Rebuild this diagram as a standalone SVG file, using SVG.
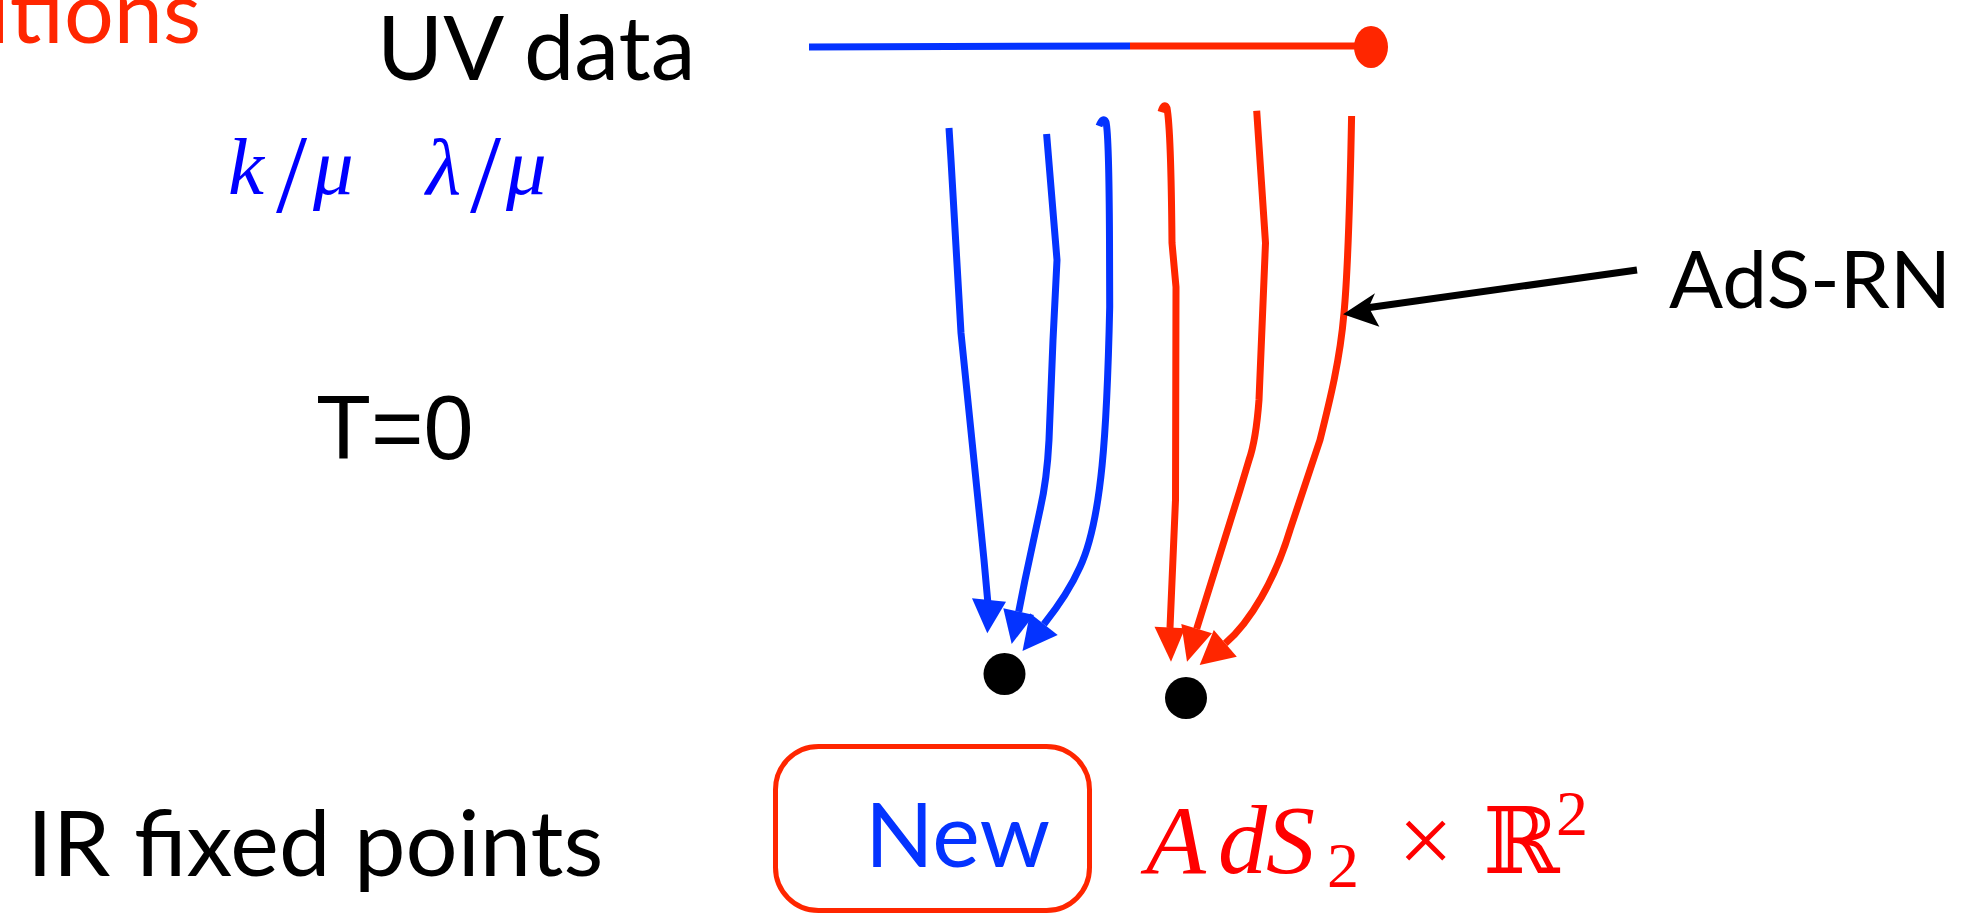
<svg xmlns="http://www.w3.org/2000/svg" width="1973" height="914" viewBox="0 0 1973 914">
<style>
.gill{font-family:Lato,"Open Sans","DejaVu Sans",sans-serif;}
.math{font-family:"Liberation Serif","DejaVu Serif",serif;font-style:italic;}
.up{font-family:"Liberation Serif","DejaVu Serif",serif;font-style:normal;}
.bl{stroke:#0433ff;stroke-width:7;fill:none;stroke-linejoin:round;}
.rd{stroke:#ff2600;stroke-width:7;fill:none;stroke-linejoin:round;}
.bh{fill:#0433ff;}
.rh{fill:#ff2600;}
.dot{fill:#000;}
</style>
<rect width="1973" height="914" fill="#fff"/>

<g id="title-fragment"><text class="gill" x="201" y="43" font-size="88" fill="#ff2600" text-anchor="end">itions</text></g>
<g id="uv-data"><text class="gill" x="377" y="80" font-size="90" fill="#000">UV data</text></g>
<g id="uv-params">
<text class="math" font-size="81" fill="#0000ff"><tspan x="228" y="194">k</tspan><tspan x="426" y="194">λ</tspan></text>
<text class="up" font-size="112" fill="#0000ff"><tspan x="276" y="212">/</tspan><tspan x="470" y="212">/</tspan></text>
<text class="math" font-size="81" fill="#0000ff"><tspan x="313" y="194">μ</tspan><tspan x="506" y="194">μ</tspan></text>
</g>
<g id="t-zero"><text x="316" y="459" font-family="'Liberation Sans',Arial,sans-serif" font-size="90" fill="#000">T=0</text></g>
<g id="ir-label"><text class="gill" x="27" y="876" font-size="92" fill="#000">IR fixed points</text></g>
<g id="ads-rn-label"><text class="gill" x="1669" y="308" font-size="80" fill="#000">AdS-RN</text></g>

<g id="uv-line">
<line x1="809" y1="47" x2="1130" y2="46" stroke="#0433ff" stroke-width="7"/>
<line x1="1130" y1="46" x2="1362" y2="46" stroke="#ff2600" stroke-width="7"/>
<ellipse cx="1371" cy="47" rx="17" ry="21" fill="#ff2600"/>
</g>

<g id="new-fixed-point">
<rect x="775.5" y="746.5" width="314" height="164" rx="43" ry="43" fill="none" stroke="#ff2600" stroke-width="5"/>
<text class="gill" x="865" y="867" font-size="90" fill="#0433ff">New</text>
<circle class="dot" cx="1004.5" cy="674" r="21"/>
</g>

<g id="ads2-fixed-point">
<text fill="#ff0000">
<tspan class="math" x="1146" y="873" font-size="98">A</tspan><tspan class="math" x="1218" y="873" font-size="98">d</tspan><tspan class="math" x="1266" y="873" font-size="98">S</tspan><tspan class="up" x="1327" y="887" font-size="64">2</tspan><tspan class="up" x="1398" y="873" font-size="98">×</tspan><tspan x="1483" y="873" font-size="92" font-family="'DejaVu Serif',serif">ℝ</tspan><tspan class="up" x="1556" y="835" font-size="64">2</tspan>
</text>
<circle class="dot" cx="1186" cy="698" r="21"/>
</g>

<g id="connectors">
<path class="bl" d="M949,128 L951,160 L961,333 L978,500 L984,560 L988,604"/>
<path class="bl" d="M1046.6,134 L1057,260 L1053,340 L1049,440 Q1047,480 1040,510 L1025,580 L1018.7,611.7"/>
<path class="bl" d="M1099,126 Q1103,116 1106,122 Q1109,135 1109.5,240 L1109.7,307 C1107,430 1102,520 1080,567 Q1068,594 1043.9,624.2"/>
<path class="rd" d="M1161,112 Q1164,102 1167,108 Q1171,130 1172,243 L1176,287 L1175.5,500 L1170,628"/>
<path class="rd" d="M1256.7,110.7 L1265.5,243 L1259,400 Q1256,440 1249,460 L1240,490 L1196.7,628.7"/>
<path class="rd" d="M1351.6,116 C1350,200 1348,270 1344,313 C1340,360 1330,400 1320,440 L1290,530 C1275,580 1250,622 1225.3,643.4"/>
<polygon class="bh" points="972,598.3 1006,601.7 987.3,633.3"/>
<polygon class="bh" points="1003.3,608.3 1034,615 1011.7,644"/>
<polygon class="bh" points="1030,613.3 1057.7,635 1022.5,651"/>
<polygon class="rh" points="1154.5,626.7 1185,628.3 1171,661.7"/>
<polygon class="rh" points="1181.3,624 1212,633.3 1187,661.7"/>
<polygon class="rh" points="1213.8,630 1236.8,656.7 1199.7,665"/>
<line x1="1637" y1="270" x2="1366" y2="308" stroke="#000" stroke-width="7"/>
<polygon points="1343,314.3 1375,293.3 1368.7,307.3 1379.4,326.7" fill="#000"/>
</g>
</svg>
